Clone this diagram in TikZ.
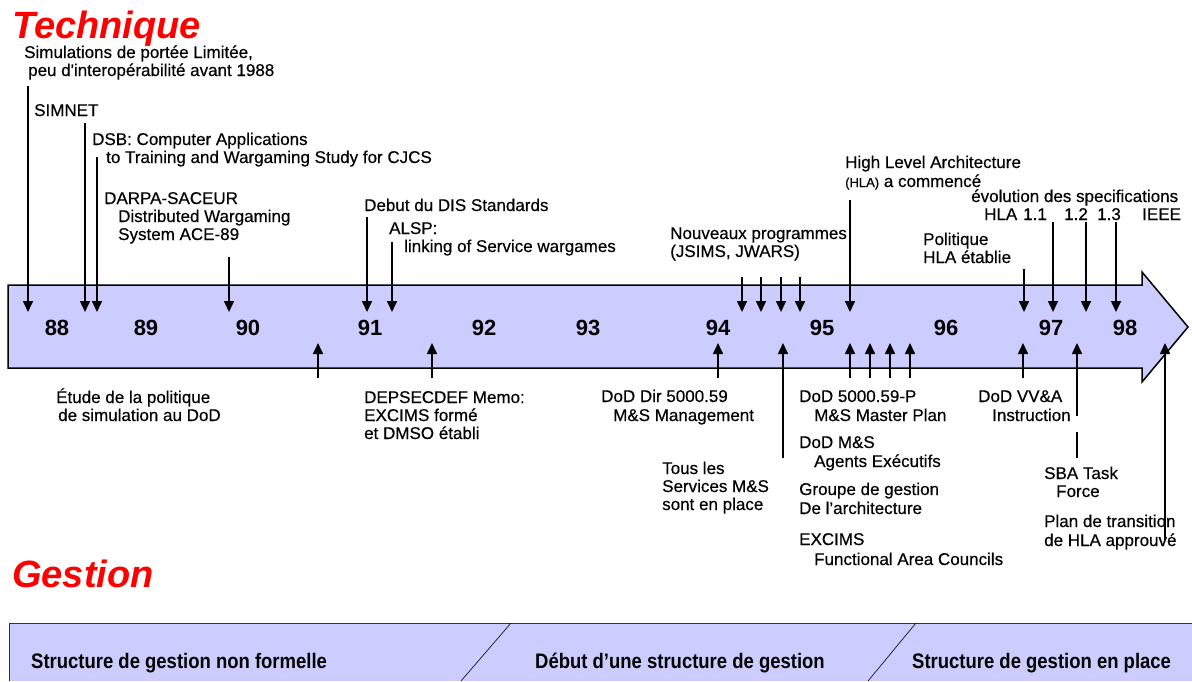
\documentclass[tikz,border=0pt]{standalone}
\usepackage{fontspec}
\setmainfont{Liberation Sans}
\newfontfamily\lsans{Liberation Sans}[FakeBold=0.4]
\newfontfamily\lsansb{Liberation Sans Bold}
\newfontfamily\lsansbi{Liberation Sans Bold Italic}
\usetikzlibrary{arrows.meta}
\definecolor{lav}{RGB}{204,204,255}
\tikzset{
  lbl/.style={anchor=base west, inner sep=0pt, font=\lsans\fontsize{17}{19}\selectfont},
  yr/.style={anchor=base, inner sep=0pt, font=\lsansb\fontsize{22}{24}\selectfont},
  ttl/.style={anchor=base west, inner sep=0pt, text=red, font=\lsansbi\fontsize{38}{40}\selectfont},
  barlbl/.style={anchor=base west, inner sep=0pt, font=\lsansb\fontsize{21}{23}\selectfont},
  dn/.style={-{Triangle[width=10pt,length=11pt]}, line width=1.6pt},
  plain/.style={line width=1.6pt},
}
\begin{document}
\begin{tikzpicture}[x=1pt,y=-1pt]
\useasboundingbox (0,0) rectangle (1192,681);
\fill[white] (0,0) rectangle (1192,681);
% titles
\node[ttl] (tech) at (12,38) {Technique};
\node[ttl] (gest) at (12,587) {Gestion};
% band arrow
\draw[fill=lav, line width=1.5pt, line join=miter]
  (8,285) -- (1142,285) -- (1142,272) -- (1188,327) -- (1142,382) -- (1142,368) -- (8,368) -- cycle;
% years
\foreach \x/\y [count=\i] in {57/88,146/89,248/90,370/91,484/92,588/93,718/94,822/95,946/96,1051/97,1125/98}
  \node[yr] (yr\i) at (\x,335) {\y};
% top labels
\node[lbl] (t1a) at (24,58) {Simulations de portée Limitée,};
\node[lbl] (t1b) at (28,76) {peu d'interopérabilité avant 1988};
\node[lbl] (t2) at (34,116) {SIMNET};
\node[lbl] (t3a) at (92,145) {DSB: Computer Applications};
\node[lbl] (t3b) at (106,163) {to Training and Wargaming Study for CJCS};
\node[lbl] (t4a) at (104,204) {DARPA-SACEUR};
\node[lbl] (t4b) at (118,222) {Distributed Wargaming};
\node[lbl] (t4c) at (118,240) {System ACE-89};
\node[lbl] (t5) at (364,211) {Debut du DIS Standards};
\node[lbl] (t6a) at (389,234) {ALSP:};
\node[lbl] (t6b) at (404,252) {linking of Service wargames};
\node[lbl] (t7a) at (670,239) {Nouveaux programmes};
\node[lbl] (t7b) at (670,257) {(JSIMS, JWARS)};
\node[lbl] (t8a) at (845,168) {High Level Architecture};
\node[lbl] (t8b) at (845,187) {{\fontsize{13}{15}\selectfont (HLA)} a commencé};
\node[lbl] (t9a) at (971,202) {évolution des specifications};
\node[lbl] (t9b) at (984,220) {HLA};
\node[lbl] (t9c) at (1023,220) {1.1};
\node[lbl] (t9d) at (1064,220) {1.2};
\node[lbl] (t9e) at (1097,220) {1.3};
\node[lbl] (t9f) at (1142,220) {IEEE};
\node[lbl] (t10a) at (923,245) {Politique};
\node[lbl] (t10b) at (923,263) {HLA établie};
% bottom labels
\node[lbl] (b1a) at (56,403) {Étude de la politique};
\node[lbl] (b1b) at (58,421) {de simulation au DoD};
\node[lbl] (b2a) at (364,403) {DEPSECDEF Memo:};
\node[lbl] (b2b) at (364,421) {EXCIMS formé};
\node[lbl] (b2c) at (364,439) {et DMSO établi};
\node[lbl] (b3a) at (601,402) {DoD Dir 5000.59};
\node[lbl] (b3b) at (613,421) {M\&S Management};
\node[lbl] (b4a) at (662,474) {Tous les};
\node[lbl] (b4b) at (662,492) {Services M\&S};
\node[lbl] (b4c) at (662,510) {sont en place};
\node[lbl] (b5a) at (799,402) {DoD 5000.59-P};
\node[lbl] (b5b) at (814,421) {M\&S Master Plan};
\node[lbl] (b6a) at (799,448) {DoD M\&S};
\node[lbl] (b6b) at (814,467) {Agents Exécutifs};
\node[lbl] (b7a) at (799,495) {Groupe de gestion};
\node[lbl] (b7b) at (799,514) {De l’architecture};
\node[lbl] (b8a) at (799,545) {EXCIMS};
\node[lbl] (b8b) at (814,565) {Functional Area Councils};
\node[lbl] (b9a) at (978,402) {DoD VV\&A};
\node[lbl] (b9b) at (992,421) {Instruction};
\node[lbl] (b10a) at (1044,479) {SBA Task};
\node[lbl] (b10b) at (1056,497) {Force};
\node[lbl] (b11a) at (1044,527) {Plan de transition};
\node[lbl] (b11b) at (1044,546) {de HLA approuvé};
% down arrows
\foreach \x/\t [count=\i] in {28/86,85/123,97/157,229/257,367/217,392/242,742/277,761/277,781/277,800/277,850/200,1024/269,1053/222,1086/222,1116/222}{
  \coordinate (ds\i) at (\x,\t);
  \coordinate (de\i) at (\x,312);
  \draw[dn] (ds\i) -- (de\i);
}
% up arrows
\foreach \x/\t [count=\i] in {318/378,432/378,718/378,783/458,850/378,870/378,890/378,910/378,1023/378,1077/416,1165/540}{
  \coordinate (us\i) at (\x,\t);
  \coordinate (ue\i) at (\x,343);
  \draw[dn] (us\i) -- (ue\i);
}
\coordinate (sba1) at (1077,432);
\coordinate (sba2) at (1077,458);
\draw[plain] (sba1) -- (sba2);
% bottom bar
\fill[lav] (9,623) rectangle (1192,681);
\draw[line width=1pt, black!80] (9,681) -- (9,623) -- (1192,623);
\coordinate (g1t) at (511,623); \coordinate (g1b) at (461,681);
\coordinate (g2t) at (916,623); \coordinate (g2b) at (868,681);
\draw[line width=0.6pt] (g1t) -- (g1b);
\draw[line width=0.6pt] (g2t) -- (g2b);
\node[barlbl] (g1) at (31,668) {\scalebox{0.88}[1]{Structure de gestion non formelle}};
\node[barlbl] (g2) at (535,668) {\scalebox{0.88}[1]{Début d’une structure de gestion}};
\node[barlbl] (g3) at (912,668) {\scalebox{0.88}[1]{Structure de gestion en place}};
\end{tikzpicture}
\end{document}
